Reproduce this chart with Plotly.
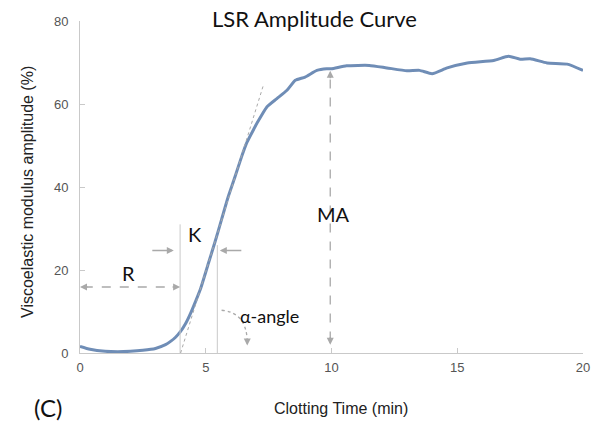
import plotly.graph_objects as go

# ---- data ----
time_min = [0, 0.4, 1.0, 1.5, 2.0, 2.5, 3.0, 3.4, 3.6, 3.8, 4.0, 4.2, 4.4, 4.6, 4.8, 5.1,
            5.37, 5.63, 5.89, 6.16, 6.42, 6.62, 6.82, 7.03, 7.43, 7.83, 8.23, 8.56, 8.95,
            9.42, 9.81, 10.0, 10.6, 11.5, 12.2, 13.0, 13.5, 14.0, 14.6, 15.4, 16.45, 17.04,
            17.5, 17.9, 18.57, 19.37, 20.0]
amplitude = [1.6, 0.9, 0.4, 0.3, 0.4, 0.65, 1.1, 2.0, 2.8, 3.8, 5.2, 7.1, 9.6, 12.5, 15.6, 21.5,
             26.8, 32.2, 37.6, 42.4, 47.2, 50.5, 52.9, 55.3, 59.3, 61.3, 63.3, 65.7, 66.5,
             68.1, 68.5, 68.5, 69.2, 69.3, 68.7, 68.0, 68.1, 67.3, 68.7, 69.9, 70.5, 71.5,
             70.8, 70.9, 69.9, 69.6, 68.1]

R_time = 3.98
K_end = 5.46
MA_time = 9.95
R_level = 15.9
K_level = 24.7
tangent_x = [4.0, 7.29]
tangent_y = [0.0, 64.5]

x_ticks = [0, 5, 10, 15, 20]
y_ticks = [0, 20, 40, 60, 80]

GRAY = "#c9c9c9"
AGRAY = "#a9a9a9"

fig = go.Figure()
fig.add_trace(go.Scatter(x=time_min, y=amplitude, mode="lines",
                         line=dict(color="#6f8db6", width=3, shape="spline", smoothing=0.5),
                         hoverinfo="skip"))

shapes = [
    # K vertical lines
    dict(type="line", x0=R_time, x1=R_time, y0=0, y1=31, line=dict(color=GRAY, width=1)),
    dict(type="line", x0=K_end, x1=K_end, y0=0, y1=26, line=dict(color=GRAY, width=1)),
    # tangent
    dict(type="line", x0=tangent_x[0], x1=tangent_x[1], y0=tangent_y[0], y1=tangent_y[1],
         line=dict(color=AGRAY, width=1, dash="dot")),
    # R dashed
    dict(type="line", x0=0.15, x1=R_time - 0.15, y0=R_level, y1=R_level,
         line=dict(color=AGRAY, width=1.3, dash="dash")),
    # MA dashed
    dict(type="line", x0=MA_time, x1=MA_time, y0=3, y1=66,
         line=dict(color=AGRAY, width=1.3, dash="dash")),
    # alpha curved arrow
    dict(type="path", path="M 5.63,10.3 Q 6.6,9.8 6.65,3.0",
         line=dict(color=AGRAY, width=1.3, dash="dot")),
]
fig.update_layout(shapes=shapes)

def head(x, y, ax, ay):
    fig.add_annotation(x=x, y=y, ax=ax, ay=ay, xref="x", yref="y", text="",
                       showarrow=True, arrowhead=2, arrowsize=1, arrowwidth=1.4,
                       arrowcolor=AGRAY)

# R arrow heads
head(0.0, R_level, 9, 0)
head(R_time, R_level, -9, 0)
# MA heads
head(MA_time, 68.0, 0, 9)
head(MA_time, 2.0, 0, -9)
# alpha head
head(6.65, 1.8, 0, -7)
# K arrows (solid)
fig.add_annotation(x=R_time - 0.25, y=K_level, ax=-23, ay=0, xref="x", yref="y", text="",
                   showarrow=True, arrowhead=2, arrowsize=1, arrowwidth=1.4, arrowcolor=AGRAY)
fig.add_annotation(x=K_end + 0.1, y=K_level, ax=23, ay=0, xref="x", yref="y", text="",
                   showarrow=True, arrowhead=2, arrowsize=1, arrowwidth=1.4, arrowcolor=AGRAY)

LATO = "Lato, Open Sans, sans-serif"
ARIAL = "Liberation Sans, Arial, sans-serif"
lab_font = dict(family=LATO, size=20, color="#111")
fig.add_annotation(x=1.93, y=19.3, text="R", showarrow=False, xref="x", yref="y", font=lab_font)
fig.add_annotation(x=4.57, y=28.6, text="K", showarrow=False, xref="x", yref="y", font=lab_font)
fig.add_annotation(x=10.07, y=33.6, text="MA", showarrow=False, xref="x", yref="y", font=lab_font)
fig.add_annotation(x=6.28, y=9.0, text="α-angle", showarrow=False, xref="x", yref="y",
                   xanchor="left", font=dict(family=LATO, size=18, color="#111"))

W, H = 601, 427
L, R, T, B = 80, 18, 21, 74
pw, ph = W - L - R, H - T - B

def px(xp):
    return (xp - L) / pw

def py(yp):
    return (H - B - yp) / ph

def paper_text(xp, yp, text, font, angle=0):
    fig.add_annotation(x=px(xp), y=py(yp), xref="paper", yref="paper", text=text,
                       xanchor="center", yanchor="middle", textangle=angle,
                       showarrow=False, font=font)

paper_text(314, 19, "LSR Amplitude Curve", dict(family=LATO, size=22, color="#111"))
paper_text(27, 192, "Viscoelastic modulus amplitude (%)", dict(family=ARIAL, size=16, color="#222"), -90)
paper_text(341, 408, "Clotting Time (min)", dict(family=ARIAL, size=16, color="#222"))
paper_text(48, 407, "(C)", dict(family=LATO, size=24, color="#111"))

axis_common = dict(showgrid=False, zeroline=False, showline=True, linecolor=GRAY, linewidth=1,
                   ticks="inside", ticklen=5, tickcolor=GRAY, tickwidth=1,
                   tickfont=dict(family=ARIAL, size=13, color="#555"))
fig.update_xaxes(range=[0, 20], tickvals=x_ticks, ticklabelstandoff=2, **axis_common)
fig.update_yaxes(range=[0, 80], tickvals=y_ticks, ticklabelstandoff=8, **axis_common)

fig.update_layout(width=W, height=H, margin=dict(l=L, r=R, t=T, b=B),
                  plot_bgcolor="white", paper_bgcolor="white", showlegend=False)

fig.write_html("out.html")
